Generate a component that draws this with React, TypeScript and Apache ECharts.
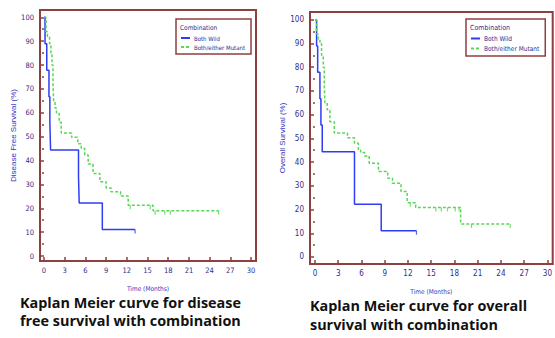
import React, { useEffect, useRef } from "react";
import * as echarts from "echarts";

// ---- data ----
const xTicks = [0, 3, 6, 9, 12, 15, 18, 21, 24, 27, 30];
const yTicks = [0, 10, 20, 30, 40, 50, 60, 70, 80, 90, 100];
const yMinorTicks = [5, 15, 25, 35, 45, 55, 65, 75, 85, 95];

// Disease free survival
const dfsWildT = [0, 0.15, 0.4, 0.72, 0.85, 0.95, 5.0, 5.1, 8.45, 13.2];
const dfsWildS = [100, 88.9, 77.8, 66.7, 55.6, 44.4, 33.3, 22.2, 11.1, 11.1];
const dfsMutT = [0, 0.3, 0.5, 0.8, 1.0, 1.15, 1.3, 1.4, 1.6, 1.8, 2.2, 2.5, 4.0, 4.9, 5.4, 5.9, 6.4, 7.1, 8.1, 9.0, 9.7, 11.1, 12.2, 15.8, 25.3];
const dfsMutS = [100, 94, 92, 89, 85, 80, 72, 65, 62, 60, 56, 51.5, 49.7, 47, 45, 42.3, 38.5, 34.6, 31.1, 28.5, 26.9, 25.1, 21.3, 19, 19];
const dfsWildCensT = [13.2];
const dfsWildCensS = [11.1];
const dfsMutCensT = [12.5, 15.4, 16.1, 17.5, 18.3, 25.3];
const dfsMutCensS = [21.3, 21.3, 19, 19, 19, 19];

// Overall survival
const osWildT = [0, 0.21, 0.35, 0.64, 0.77, 0.94, 5.1, 8.55, 13.1];
const osWildS = [100, 88.9, 77.8, 66.7, 55.6, 44.4, 22.2, 11.1, 11.1];
const osMutT = [0, 0.2, 0.4, 0.64, 0.85, 1.07, 1.2, 1.28, 1.58, 1.93, 2.5, 4.2, 5.1, 5.6, 5.9, 6.4, 7.0, 8.2, 9.4, 10.0, 11.1, 11.9, 13.0, 18.8, 25.2];
const osMutS = [100, 94, 92, 90, 85, 80, 72, 65, 62, 57, 52.2, 50.2, 47.9, 45, 44, 42.6, 39.5, 36, 33.2, 31.1, 27.6, 22.9, 20.9, 13.9, 13.9];
const osWildCensT = [13.1];
const osWildCensS = [11.1];
const osMutCensT = [12.3, 15.6, 16.3, 17.1, 18.1, 18.6, 20.2, 25.2];
const osMutCensS = [22.9, 20.9, 20.9, 20.9, 20.9, 20.9, 13.9, 13.9];

const seriesNames = ["Both Wild", "Both/either Mutant"];

const BLUE = "#2f3cf2";
const GREEN = "#55d855";
const FRAME = "#8e3f3f";
const NAVY = "#2e2e8c";
const NAME_BLUE = "#3636c0";
const NARROW = "'Liberation Sans Narrow', 'DejaVu Sans Condensed', 'Liberation Sans', sans-serif";

const pairs = (t: number[], s: number[]) => t.map((x, i) => [x, s[i]]);

function xAxisFor(gridIndex: number, min: number, max: number, fs: number) {
  return {
    type: "value",
    gridIndex,
    min,
    max,
    name: "Time (Months)",
    nameLocation: "middle",
    nameGap: 24,
    nameTextStyle: { color: NAME_BLUE, fontSize: 6.5, fontFamily: NARROW },
    axisLine: { show: true, onZero: false, lineStyle: { color: FRAME, width: 2 } },
    axisTick: { show: true, inside: true, length: 4, customValues: xTicks, lineStyle: { color: FRAME, width: 1.5 } },
    axisLabel: { customValues: xTicks, color: NAVY, fontSize: fs, fontFamily: NARROW, margin: 5 },
    splitLine: { show: false },
  };
}

function yAxisFor(gridIndex: number, min: number, max: number, name: string, fs: number) {
  return {
    type: "value",
    gridIndex,
    min,
    max,
    name,
    nameLocation: "middle",
    nameGap: 23,
    nameTextStyle: { color: NAME_BLUE, fontSize: 8, fontFamily: "'Liberation Sans', Arial, sans-serif" },
    axisLine: { show: true, onZero: false, lineStyle: { color: FRAME, width: 2 } },
    axisTick: { show: true, inside: true, length: 4, customValues: yTicks, lineStyle: { color: FRAME, width: 1.5 } },
    axisLabel: { customValues: yTicks, color: NAVY, fontSize: fs, fontFamily: NARROW, margin: 6 },
    splitLine: { show: false },
  };
}

function yMinorAxis(gridIndex: number, min: number, max: number) {
  return {
    type: "value",
    gridIndex,
    min,
    max,
    axisLine: { show: false },
    axisTick: { show: true, inside: true, length: 2, customValues: yMinorTicks, lineStyle: { color: FRAME, width: 1.5 } },
    axisLabel: { show: false },
    splitLine: { show: false },
  };
}

function kmSeries(name: string, xi: number, yi: number, data: number[][], color: string, dashed: boolean) {
  return {
    name,
    type: "line",
    xAxisIndex: xi,
    yAxisIndex: yi,
    step: "end",
    data,
    symbol: "none",
    lineStyle: { color, width: 1.5, type: dashed ? [3, 2] : "solid" },
    itemStyle: { color },
  };
}

function censorSeries(xi: number, yi: number, data: number[][], color: string) {
  return {
    type: "scatter",
    xAxisIndex: xi,
    yAxisIndex: yi,
    data,
    symbol: "rect",
    symbolSize: [1.2, 4],
    symbolOffset: [0, 2],
    itemStyle: { color },
    silent: true,
  };
}

function legendFor(left: number, top: number, fs: number) {
  return {
    left,
    top,
    orient: "vertical",
    data: seriesNames,
    padding: [16, 6, 4, 4],
    itemWidth: 9,
    itemHeight: 6,
    itemGap: 3,
    borderColor: FRAME,
    borderWidth: 1.5,
    itemStyle: { opacity: 0 },
    textStyle: { color: NAVY, fontSize: fs, fontFamily: NARROW, padding: [0, 0, 0, -1] },
  };
}

export default function App() {
  const ref = useRef<HTMLDivElement>(null);
  useEffect(() => {
    if (!ref.current) return;
    const chart = echarts.init(ref.current, null, { renderer: "svg" });
    const option: any = {
      animation: false,
      backgroundColor: "#ffffff",
      grid: [
        { left: 40, top: 10, width: 216, height: 251, show: true, borderColor: FRAME, borderWidth: 2, backgroundColor: "transparent" },
        { left: 310, top: 12, width: 244, height: 252, show: true, borderColor: FRAME, borderWidth: 2, backgroundColor: "transparent" },
      ],
      xAxis: [xAxisFor(0, -0.58, 30.72, 7.5), xAxisFor(1, -0.64, 30.68, 8)],
      yAxis: [
        yAxisFor(0, -2.09, 103.06, "Disease Free Survival (%)", 7.5),
        yAxisFor(1, -2.95, 103.24, "Overall Survival (%)", 8),
        yMinorAxis(0, -2.09, 103.06),
        yMinorAxis(1, -2.95, 103.24),
      ],
      legend: [legendFor(176, 19, 6), legendFor(466, 19, 6.5)],
      series: [
        kmSeries(seriesNames[0], 0, 0, pairs(dfsWildT, dfsWildS), BLUE, false),
        kmSeries(seriesNames[1], 0, 0, pairs(dfsMutT, dfsMutS), GREEN, true),
        censorSeries(0, 0, pairs(dfsWildCensT, dfsWildCensS), BLUE),
        censorSeries(0, 0, pairs(dfsMutCensT, dfsMutCensS), GREEN),
        kmSeries(seriesNames[0], 1, 1, pairs(osWildT, osWildS), BLUE, false),
        kmSeries(seriesNames[1], 1, 1, pairs(osMutT, osMutS), GREEN, true),
        censorSeries(1, 1, pairs(osWildCensT, osWildCensS), BLUE),
        censorSeries(1, 1, pairs(osMutCensT, osMutCensS), GREEN),
      ],
      graphic: [
        { type: "text", left: 180, top: 24, style: { text: "Combination", fill: NAVY, fontSize: 6.5, fontFamily: NARROW } },
        { type: "text", left: 470, top: 24, style: { text: "Combination", fill: NAVY, fontSize: 7, fontFamily: NARROW } },
        { type: "text", left: 20, top: 293, style: { text: "Kaplan Meier curve for disease\nfree survival with combination", fill: "#111111", fontSize: 14.4, fontWeight: "bold", fontFamily: "'Open Sans', sans-serif", lineHeight: 18 } },
        { type: "text", left: 310, top: 296, style: { text: "Kaplan Meier curve for overall\nsurvival with combination", fill: "#111111", fontSize: 14.4, fontWeight: "bold", fontFamily: "'Open Sans', sans-serif", lineHeight: 19 } },
      ],
    };
    chart.setOption(option);
    return () => chart.dispose();
  }, []);
  return (
    <div
      ref={ref}
      style={{ position: "absolute", left: 0, top: 0, width: 555, height: 338, background: "#fff" }}
    />
  );
}
